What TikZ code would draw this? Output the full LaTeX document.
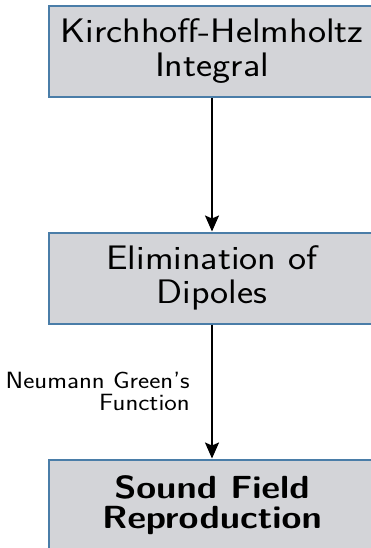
\documentclass[tikz,border=0pt]{standalone}
\usepackage{fontspec}
\newfontfamily\diagfont{lmsans17-regular.otf}[BoldFont=lmsans10-bold.otf, FakeStretch=1.13, Ligatures=TeX]
\usetikzlibrary{arrows.meta}
\definecolor{boxfill}{HTML}{D3D4D8}
\definecolor{boxline}{HTML}{4A7DA8}
\begin{document}
\begin{tikzpicture}[x=1pt,y=1pt,
  stepbox/.style={draw=boxline, line width=2pt, fill=boxfill, minimum width=326pt, minimum height=91pt, inner sep=0pt, align=center, font=\diagfont\fontsize{34}{34}\selectfont},
  flow/.style={line width=1.8pt, -{Stealth[length=16pt,width=14pt,inset=3pt]}},
  lbl/.style={font=\diagfont\fontsize{23.5}{22}\selectfont, align=right}]
\useasboundingbox (0,0) rectangle (371,-548);
\node[stepbox] (kh) at (212,-51.5) {Kirchhoff-Helmholtz\\Integral};
\node[stepbox] (ed) at (212,-278) {Elimination of\\Dipoles};
\node[stepbox, font=\diagfont\bfseries\fontsize{32}{30}\selectfont] (sf) at (212,-505) {Sound Field\\Reproduction};
\draw[flow] (kh) -- (ed);
\draw[flow] (ed) -- node[lbl, left=18pt, pos=0.5] (ng) {Neumann Green's\\Function} (sf);
\end{tikzpicture}
\end{document}
